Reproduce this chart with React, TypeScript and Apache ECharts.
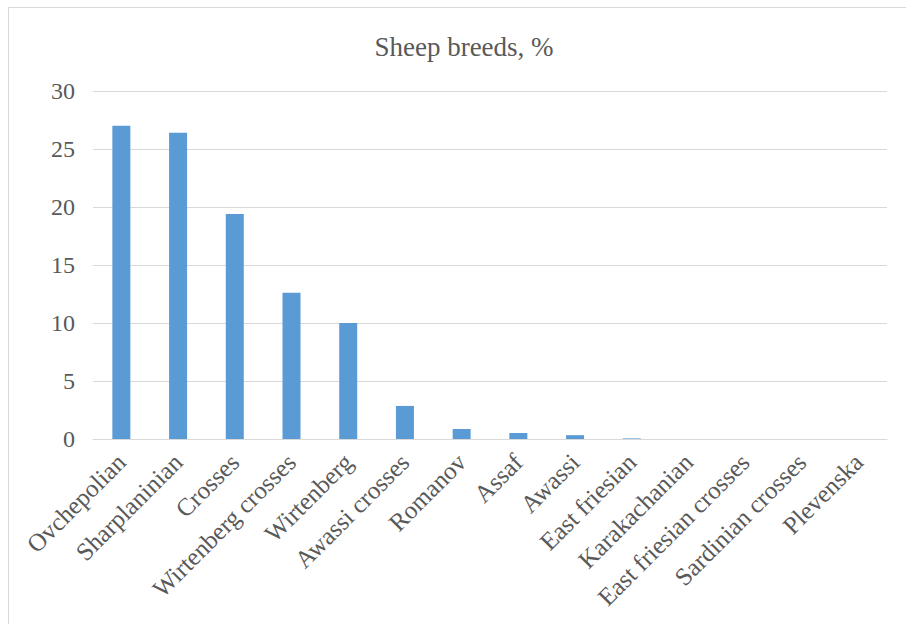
import React, { useEffect, useRef } from "react";
import * as echarts from "echarts";

const breeds = [
  "Ovchepolian",
  "Sharplaninian",
  "Crosses",
  "Wirtenberg crosses",
  "Wirtenberg",
  "Awassi crosses",
  "Romanov",
  "Assaf",
  "Awassi",
  "East friesian",
  "Karakachanian",
  "East friesian crosses",
  "Sardinian crosses",
  "Plevenska",
];

const sharePercent = [27.0, 26.4, 19.4, 12.6, 10.0, 2.85, 0.86, 0.52, 0.33, 0.05, 0, 0, 0, 0];

const yTicks = { min: 0, max: 30, interval: 5 };

const FONT = "'Liberation Serif', 'Times New Roman', serif";
const TEXT = "#595959";
const GRID = "#d9d9d9";

export default function App() {
  const ref = useRef<HTMLDivElement>(null);

  useEffect(() => {
    if (!ref.current) return;
    const chart = echarts.init(ref.current, undefined, { renderer: "svg" });
    chart.setOption({
      animation: false,
      backgroundColor: "#ffffff",
      title: {
        text: "Sheep breeds, %",
        left: 459,
        top: 28,
        textAlign: "center",
        textStyle: {
          fontFamily: FONT,
          fontSize: 27,
          fontWeight: "normal",
          color: TEXT,
        },
      },
      graphic: [
        {
          type: "rect",
          shape: { x: 8.5, y: 7.5, width: 1000, height: 1000 },
          style: { fill: "none", stroke: GRID, lineWidth: 1 },
          silent: true,
        },
      ],
      grid: { left: 93, right: 19, top: 91, bottom: 185 },
      xAxis: {
        type: "category",
        data: breeds,
        axisTick: { show: false },
        axisLine: { show: true, lineStyle: { color: GRID, width: 1 } },
        axisLabel: {
          interval: 0,
          rotate: 45,
          margin: 19,
          fontFamily: FONT,
          fontSize: 25,
          color: TEXT,
        },
      },
      yAxis: {
        type: "value",
        min: yTicks.min,
        max: yTicks.max,
        interval: yTicks.interval,
        axisLine: { show: false },
        axisTick: { show: false },
        splitLine: { lineStyle: { color: GRID, width: 1 } },
        axisLabel: {
          margin: 18,
          fontFamily: FONT,
          fontSize: 24,
          color: TEXT,
        },
      },
      series: [
        {
          type: "bar",
          data: sharePercent,
          barWidth: 18,
          itemStyle: { color: "#5b9bd5" },
        },
      ],
    });
    return () => chart.dispose();
  }, []);

  return (
    <div style={{ position: "fixed", left: 0, top: 0, width: 906, height: 624, background: "#fff" }}>
      <div ref={ref} style={{ width: 906, height: 624 }} />
    </div>
  );
}
